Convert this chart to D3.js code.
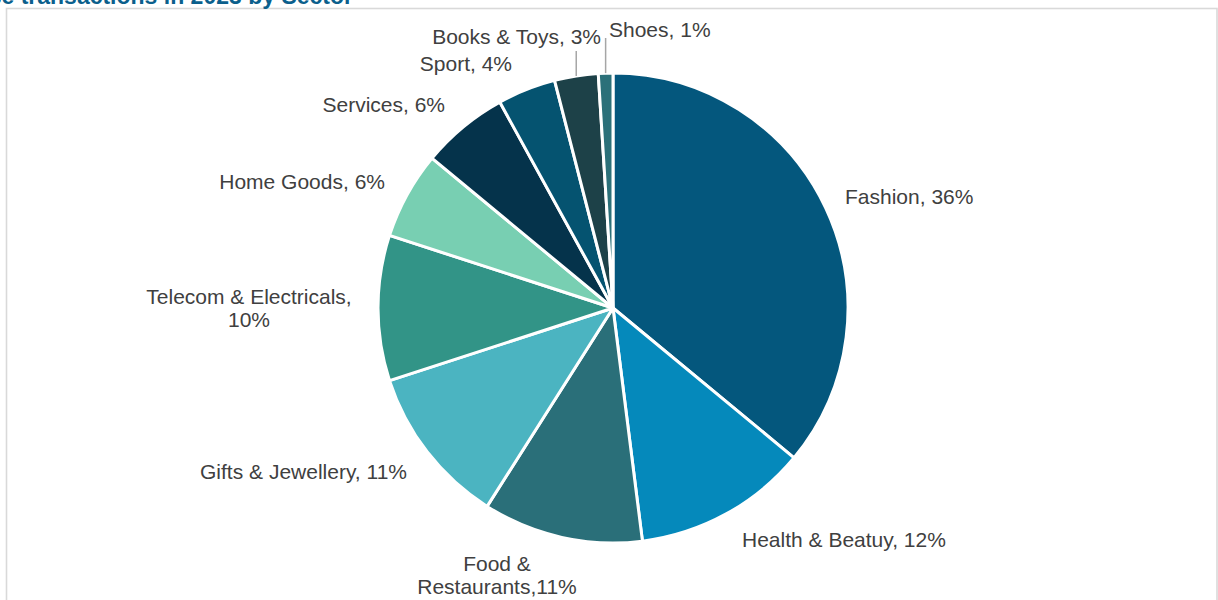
<!DOCTYPE html>
<html>
<head>
<meta charset="utf-8">
<script src="https://cdn.jsdelivr.net/npm/d3@7"></script>
<style>
  html, body { margin: 0; padding: 0; background: #ffffff; }
  svg { display: block; }
</style>
</head>
<body>
<svg id="chart" width="1218" height="600"></svg>
<script>
// ---- data ----
const categories = ["Fashion", "Health & Beatuy", "Food & Restaurants", "Gifts & Jewellery",
  "Telecom & Electricals", "Home Goods", "Services", "Sport", "Books & Toys", "Shoes"];
const shares = [36, 12, 11, 11, 10, 6, 6, 4, 3, 1];
const labelLines = [
  ["Fashion, 36%"],
  ["Health & Beatuy, 12%"],
  ["Food &", "Restaurants,11%"],
  ["Gifts & Jewellery, 11%"],
  ["Telecom & Electricals,", "10%"],
  ["Home Goods, 6%"],
  ["Services, 6%"],
  ["Sport, 4%"],
  ["Books & Toys, 3%"],
  ["Shoes, 1%"]
];
const titleText = "Card purchase transactions in 2023 by Sector";

// ---- styles / layout ----
const colors = ["#04577d", "#0589bb", "#2a6f79", "#4bb4c1", "#329487",
  "#78cfb2", "#05334b", "#055370", "#1d4148", "#2b7079"];
const cx = 613, cy = 308, radius = 235;
// label anchor positions (layout only)
const labelLayout = [
  {x: 845, y: 197, anchor: "start"},
  {x: 742, y: 540, anchor: "start"},
  {x: 497, y: 564, anchor: "middle"},
  {x: 407, y: 472, anchor: "end"},
  {x: 249, y: 297, anchor: "middle"},
  {x: 385, y: 182, anchor: "end"},
  {x: 445, y: 105, anchor: "end"},
  {x: 512, y: 64, anchor: "end"},
  {x: 601, y: 37, anchor: "end"},
  {x: 609, y: 30, anchor: "start"}
];
// leader line top ends (only small slices)
const leaderTop = {8: 51, 9: 38};

const svg = d3.select("#chart");

// frame
svg.append("rect")
  .attr("x", 6.5).attr("y", 8.5)
  .attr("width", 1210.5).attr("height", 620)
  .attr("fill", "#ffffff")
  .attr("stroke", "#d9d9d9")
  .attr("stroke-width", 1.6);

// title (cut off at the top edge, as in the reference)
svg.append("text")
  .attr("x", 353).attr("y", 4)
  .attr("text-anchor", "end")
  .attr("font-family", "Liberation Sans, Arial, sans-serif")
  .attr("font-weight", "bold")
  .attr("font-size", 23)
  .attr("fill", "#0b5f8c")
  .text(titleText);

const data = categories.map((c, i) => ({name: c, value: shares[i], i}));

const pie = d3.pie().value(d => d.value).sort(null);
const arcs = pie(data);
const arc = d3.arc().innerRadius(0).outerRadius(radius);

const g = svg.append("g").attr("transform", `translate(${cx},${cy})`);

g.selectAll("path.slice")
  .data(arcs)
  .join("path")
  .attr("class", "slice")
  .attr("d", arc)
  .attr("fill", d => colors[d.data.i])
  .attr("stroke", "#ffffff")
  .attr("stroke-width", 3)
  .attr("stroke-linejoin", "round");

// leader lines for small slices
arcs.forEach(a => {
  const i = a.data.i;
  if (leaderTop[i] === undefined) return;
  const mid = (a.startAngle + a.endAngle) / 2;
  const px = Math.sin(mid) * radius;
  const py = -Math.cos(mid) * radius;
  g.append("line")
    .attr("x1", px).attr("y1", py)
    .attr("x2", px).attr("y2", leaderTop[i] - cy)
    .attr("stroke", "#a6a6a6")
    .attr("stroke-width", 1.5);
});

// labels
const lblG = svg.append("g")
  .attr("font-family", "Liberation Sans, Arial, sans-serif")
  .attr("font-size", 21)
  .attr("fill", "#404040");

labelLines.forEach((lines, i) => {
  const L = labelLayout[i];
  const t = lblG.append("text")
    .attr("x", L.x).attr("y", L.y)
    .attr("text-anchor", L.anchor);
  lines.forEach((ln, k) => {
    t.append("tspan")
      .attr("x", L.x)
      .attr("dy", k === 0 ? "0.35em" : "1.1em")
      .text(ln);
  });
});
</script>
</body>
</html>
